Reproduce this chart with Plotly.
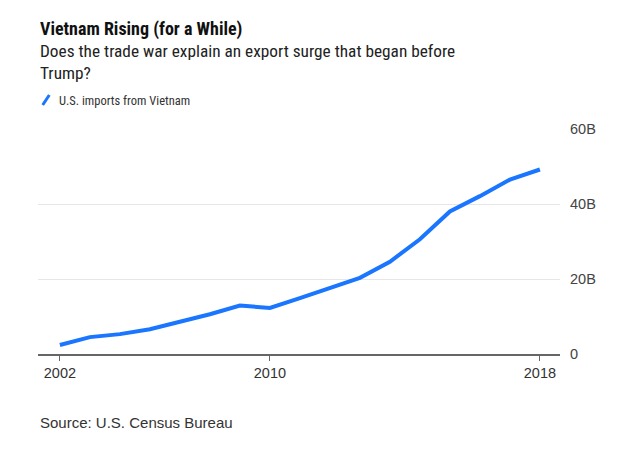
import plotly.graph_objects as go

# ---- data ----
years = list(range(2002, 2019))
imports_bn = [2.4, 4.5, 5.3, 6.6, 8.6, 10.6, 12.9, 12.3, 14.9, 17.5,
              20.3, 24.6, 30.6, 38.0, 42.1, 46.5, 49.2]
x_tick_vals = [2002, 2009, 2018]
x_tick_labels = ["2002", "2010", "2018"]
y_tick_vals = [0, 20, 40, 60]
y_tick_labels = ["0", "20B", "40B", "60B"]

title = "Vietnam Rising (for a While)"
subtitle = "Does the trade war explain an export surge that began before<br>Trump?"
legend_label = "U.S. imports from Vietnam"
source = "Source: U.S. Census Bureau"

OFF = 8  # default page body margin
W, H = 630 - OFF, 451 - OFF
L, R, T, B = 38 - OFF, 70, 129 - OFF, 97
PH = H - T - B
PW = W - L - R
BLUE = "#1a75ff"
NARROW = "Liberation Sans Narrow, Roboto Condensed, Liberation Sans, Arial, sans-serif"
WIDE = "Liberation Sans, Arial, sans-serif"


def py(ypix):
    return (H - B - (ypix - OFF)) / PH


def px(xpix):
    return ((xpix - OFF) - L) / PW


fig = go.Figure()
fig.add_trace(go.Scatter(
    x=years, y=imports_bn, mode="lines",
    line=dict(color=BLUE, width=4),
    showlegend=False, hoverinfo="skip",
))

fig.update_layout(
    width=W, height=H,
    margin=dict(l=L, r=R, t=T, b=B, pad=0),
    paper_bgcolor="white", plot_bgcolor="white",
    font=dict(family=WIDE, color="#333333", size=13),
    xaxis=dict(
        range=[2001.27, 2018.67],
        tickvals=x_tick_vals, ticktext=x_tick_labels,
        showgrid=False, zeroline=False,
        showline=True, linecolor="#666666", linewidth=1.5,
        ticks="outside", ticklen=5, tickcolor="#666666", tickwidth=1,
        tickfont=dict(family=WIDE, size=14.5, color="#333333"),
        fixedrange=True,
    ),
    yaxis=dict(
        range=[0, 60], side="right",
        tickvals=y_tick_vals, ticktext=y_tick_labels,
        showgrid=True, gridcolor="#e6e6e6", gridwidth=1,
        zeroline=False, showline=False, ticks="",
        ticklabelstandoff=9,
        tickfont=dict(family=WIDE, size=14.5, color="#444444"),
        fixedrange=True,
    ),
    showlegend=False,
)

anns = [
    dict(text="<b>" + title + "</b>", x=0, y=py(29.5), xanchor="left", yanchor="middle",
         font=dict(family=NARROW, size=18, color="#111111")),
    dict(text=subtitle, x=0, y=py(38.5), xanchor="left", yanchor="top", align="left",
         font=dict(family=NARROW, size=17.3, color="#222222")),
    dict(text=legend_label, x=px(57), y=py(100.5), xanchor="left", yanchor="middle",
         font=dict(family=NARROW, size=12.5, color="#333333")),
    dict(text=source, x=0, y=py(422.5), xanchor="left", yanchor="middle",
         font=dict(family=WIDE, size=15, color="#333333")),
]
for a in anns:
    a.update(xref="paper", yref="paper", showarrow=False)
fig.update_layout(annotations=anns)

fig.add_shape(type="line", xref="paper", yref="paper",
              x0=px(42.7), y0=py(105), x1=px(49.3), y1=py(95),
              line=dict(color=BLUE, width=3))

fig.write_html("out.html")
